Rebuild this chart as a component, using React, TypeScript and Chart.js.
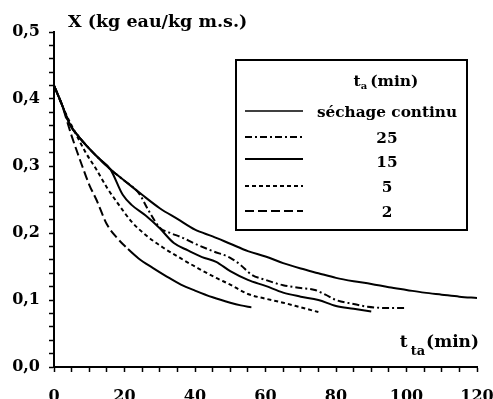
import React, { useEffect, useRef } from 'react';
import { Chart, registerables } from 'chart.js';

Chart.register(...registerables);

// ---- data (t_ta in min, X in kg eau / kg m.s.) ----
const continuT = [0, 2, 4.5, 7, 10, 13, 16, 20, 25, 30, 35, 40, 45, 50, 55, 60, 65, 70, 75, 80, 85, 90, 95, 100, 105, 110, 115, 120];
const continuX = [0.42, 0.395, 0.362, 0.344, 0.326, 0.31, 0.295, 0.278, 0.257, 0.237, 0.221, 0.205, 0.195, 0.184, 0.173, 0.165, 0.155, 0.147, 0.14, 0.133, 0.128, 0.124, 0.119, 0.115, 0.111, 0.108, 0.105, 0.103];

const ta25T = [0, 2, 4.5, 7, 10, 13, 16, 20, 24, 27, 30, 33, 36, 40, 45, 50, 53, 56, 60, 65, 70, 74, 77, 80, 85, 89, 95, 100];
const ta25X = [0.42, 0.395, 0.362, 0.344, 0.326, 0.31, 0.295, 0.278, 0.26, 0.232, 0.208, 0.2, 0.194, 0.184, 0.173, 0.163, 0.152, 0.138, 0.13, 0.122, 0.118, 0.115, 0.108, 0.1, 0.094, 0.09, 0.088, 0.088];

const ta15T = [0, 2, 4.5, 7, 10, 13, 16, 19.5, 22, 26, 30, 34, 38, 42, 46, 50, 55, 60, 65, 70, 75, 80, 85, 90];
const ta15X = [0.42, 0.395, 0.362, 0.344, 0.326, 0.31, 0.295, 0.257, 0.242, 0.226, 0.207, 0.185, 0.174, 0.164, 0.157, 0.143, 0.13, 0.121, 0.111, 0.105, 0.1, 0.091, 0.087, 0.083];

const ta5T = [0, 3, 6, 9, 12, 15, 18, 22, 26, 31, 36, 41, 46, 50, 55, 60, 65, 70, 75];
const ta5X = [0.42, 0.382, 0.35, 0.32, 0.295, 0.268, 0.245, 0.217, 0.197, 0.178, 0.162, 0.147, 0.133, 0.123, 0.109, 0.102, 0.096, 0.089, 0.082];

const ta2T = [0, 2, 5, 8, 10, 12, 15, 18, 21, 24, 28, 32, 36, 40, 45, 50, 53, 56];
const ta2X = [0.42, 0.395, 0.345, 0.3, 0.272, 0.25, 0.213, 0.192, 0.176, 0.162, 0.148, 0.135, 0.123, 0.114, 0.104, 0.096, 0.092, 0.089];

const legendLabels = ['séchage continu', '25', '15', '5', '2'];
const xTickLabels = ['0', '20', '40', '60', '80', '100', '120'];
const yTickLabels = ['0,0', '0,1', '0,2', '0,3', '0,4', '0,5'];

const Y_TITLE = 'X (kg eau/kg m.s.)';
const DASH_2_END = 21; // the t_a = 2 curve is dashed up to here, then solid

const dashes: number[][] = [[], [7, 3, 2, 3], [], [4, 3], [9, 4]];
const legendWidths = [1.5, 2, 2.2, 2, 2];

const FAMILY = '"DejaVu Serif"';

const pts = (t: number[], v: number[]) => t.map((x, i) => ({ x, y: v[i] }));

const annotPlugin = {
  id: 'annot',
  afterDraw(chart: any) {
    const ctx: CanvasRenderingContext2D = chart.ctx;
    ctx.save();
    ctx.fillStyle = '#000';
    ctx.strokeStyle = '#000';
    ctx.textBaseline = 'alphabetic';

    // y title
    ctx.font = `bold 17.5px ${FAMILY}`;
    ctx.textAlign = 'left';
    ctx.fillText(Y_TITLE, 68, 27);

    // x title: t_ta (min), right aligned at 479
    const big = `bold 17px ${FAMILY}`;
    const small = `bold 13px ${FAMILY}`;
    ctx.font = big;
    const wT = ctx.measureText('t').width;
    const wM = ctx.measureText('(min)').width;
    ctx.font = small;
    const wS = ctx.measureText('ta').width;
    const x0 = 479 - (wT + 3 + wS + 1 + wM);
    ctx.font = big;
    ctx.fillText('t', x0, 347);
    ctx.font = small;
    ctx.fillText('ta', x0 + wT + 3, 355);
    ctx.font = big;
    ctx.fillText('(min)', x0 + wT + 3 + wS + 1, 347);

    // legend box
    ctx.lineWidth = 2;
    ctx.setLineDash([]);
    ctx.strokeRect(236, 60, 231, 170);

    // legend title t_a (min)
    const lt = `bold 15.5px ${FAMILY}`;
    const ls = `bold 10px ${FAMILY}`;
    ctx.font = lt;
    const a1 = ctx.measureText('t').width;
    const a3 = ctx.measureText('(min)').width;
    ctx.font = ls;
    const a2 = ctx.measureText('a').width;
    const total = a1 + a2 + a3 + 3;
    const lx = 386 - total / 2;
    ctx.font = lt;
    ctx.fillText('t', lx, 86);
    ctx.font = ls;
    ctx.fillText('a', lx + a1, 89);
    ctx.font = lt;
    ctx.fillText('(min)', lx + a1 + a2 + 3, 86);

    const rowText = [117, 143, 167, 192, 217];
    const rowLine = [111, 137, 159, 186, 211];
    ctx.textAlign = 'center';
    legendLabels.forEach((lab, i) => {
      ctx.font = `bold 15.3px ${FAMILY}`;
      ctx.fillText(lab, 387, rowText[i]);
      ctx.beginPath();
      ctx.lineWidth = legendWidths[i];
      ctx.setLineDash(dashes[i]);
      ctx.moveTo(245, rowLine[i]);
      ctx.lineTo(303, rowLine[i]);
      ctx.stroke();
    });
    ctx.restore();
  },
};

export default function App() {
  const ref = useRef<HTMLCanvasElement>(null);
  useEffect(() => {
    document.body.style.margin = '0';
    const series = [
      pts(continuT, continuX),
      pts(ta25T, ta25X),
      pts(ta15T, ta15X),
      pts(ta5T, ta5X),
      pts(ta2T, ta2X),
    ];
    const datasets: any[] = series.map((data, i) => ({
      label: legendLabels[i],
      data,
      borderColor: '#000',
      borderWidth: 2,
      borderDash: dashes[i],
      pointRadius: 0,
      fill: false,
      cubicInterpolationMode: 'monotone',
    }));
    datasets[4].segment = {
      borderDash: (c: any) => (c.p1.parsed.x <= DASH_2_END ? dashes[4] : []),
    };

    const tickFont = { family: 'DejaVu Serif', size: 16, weight: 'bold' };

    const chart = new Chart(ref.current as HTMLCanvasElement, {
      type: 'line',
      data: { datasets },
      options: {
        responsive: false,
        animation: false,
        events: [],
        layout: { padding: { top: 32, right: 16, left: 0, bottom: 0 } },
        plugins: { legend: { display: false }, tooltip: { enabled: false } },
        scales: {
          x: {
            type: 'linear',
            min: 0,
            max: 120,
            ticks: {
              stepSize: 5,
              autoSkip: false,
              maxRotation: 0,
              color: '#000',
              font: tickFont,
              padding: 15,
              callback: (v: any) => {
                const n = Math.round(Number(v));
                return n % 20 === 0 ? xTickLabels[n / 20] : '';
              },
            },
            grid: { drawOnChartArea: false, drawTicks: true, tickLength: 5, color: '#000', tickWidth: 1.5 },
            border: { display: true, color: '#000', width: 2 },
            afterFit: (s: any) => {
              s.height = 32;
              s.paddingLeft = 0;
              s.paddingRight = 0;
            },
          },
          y: {
            type: 'linear',
            min: 0,
            max: 0.5,
            ticks: {
              stepSize: 0.02,
              autoSkip: false,
              color: '#000',
              font: tickFont,
              padding: 9,
              callback: (v: any) => {
                const n = Math.round(Number(v) * 100);
                return n % 10 === 0 ? yTickLabels[n / 10] : '';
              },
            },
            grid: { drawOnChartArea: false, drawTicks: true, tickLength: 5, color: '#000', tickWidth: 1.5 },
            border: { display: true, color: '#000', width: 2 },
            afterFit: (s: any) => {
              s.width = 54;
              s.paddingTop = 0;
              s.paddingBottom = 0;
            },
          },
        },
      } as any,
      plugins: [annotPlugin],
    });
    return () => chart.destroy();
  }, []);
  return (
    <div style={{ width: 493, height: 399, background: '#fff' }}>
      <canvas ref={ref} width={493} height={399} />
    </div>
  );
}
